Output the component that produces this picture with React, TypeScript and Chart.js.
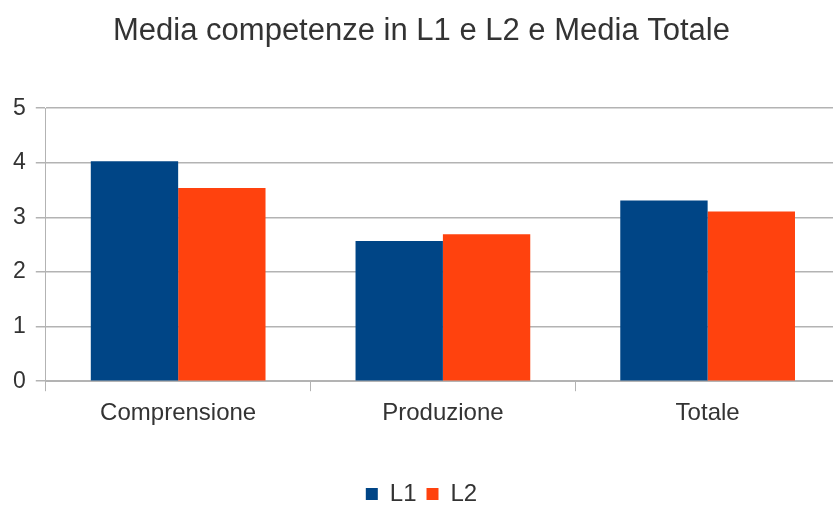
import React, { useEffect, useRef } from "react";
import { Chart, registerables } from "chart.js";

Chart.register(...registerables);

const categories = ["Comprensione", "Produzione", "Totale"];
const seriesL1 = [4.03, 2.57, 3.31];
const seriesL2 = [3.54, 2.69, 3.11];
const yTicks = [0, 1, 2, 3, 4, 5];
const titleText = "Media competenze in L1 e L2 e Media Totale";

const FONT = "'Liberation Sans', Arial, sans-serif";

export default function App() {
  const ref = useRef<HTMLCanvasElement | null>(null);
  useEffect(() => {
    if (!ref.current) return;
    const chart = new Chart(ref.current, {
      type: "bar",
      data: {
        labels: categories,
        datasets: [
          { label: "L1", data: seriesL1, backgroundColor: "#004586", borderWidth: 0 },
          { label: "L2", data: seriesL2, backgroundColor: "#ff420e", borderWidth: 0 },
        ],
      },
      options: {
        responsive: false,
        animation: false,
        devicePixelRatio: 1,
        layout: { padding: { left: 3, right: 2, top: 0, bottom: -10 } },
        datasets: { bar: { categoryPercentage: 0.66, barPercentage: 1 } },
        plugins: {
          title: {
            display: true,
            text: titleText,
            color: "#333",
            font: { family: FONT, size: 31, weight: "normal" },
            padding: { top: 13, bottom: 58 },
          },
          legend: {
            position: "bottom",
            labels: {
              color: "#333",
              font: { family: FONT, size: 24 },
              boxWidth: 12,
              boxHeight: 12,
              padding: 10,
            },
          },
          tooltip: { enabled: false },
        },
        scales: {
          x: {
            afterFit: (scale: any) => {
              scale.height += 36;
            },
            grid: {
              display: true,
              drawOnChartArea: false,
              drawTicks: true,
              tickLength: 10,
              color: "#b3b3b3",
              offset: true,
            },
            border: { display: true, color: "#b3b3b3" },
            ticks: { color: "#333", font: { family: FONT, size: 24 }, padding: 8 },
          },
          y: {
            min: 0,
            max: 5,
            afterBuildTicks: (axis: any) => {
              axis.ticks = yTicks.map((v) => ({ value: v }));
            },
            grid: { color: "#b3b3b3", tickLength: 10, lineWidth: 1.5 },
            border: { display: true, color: "#b3b3b3" },
            ticks: { color: "#333", font: { family: FONT, size: 23 }, padding: 10 },
          },
        },
      },
    });
    return () => chart.destroy();
  }, []);
  return (
    <div style={{ position: "absolute", left: 0, top: 0, width: 833, height: 506, overflow: "hidden", background: "#fff" }}>
      <canvas ref={ref} width={842} height={506} />
    </div>
  );
}
